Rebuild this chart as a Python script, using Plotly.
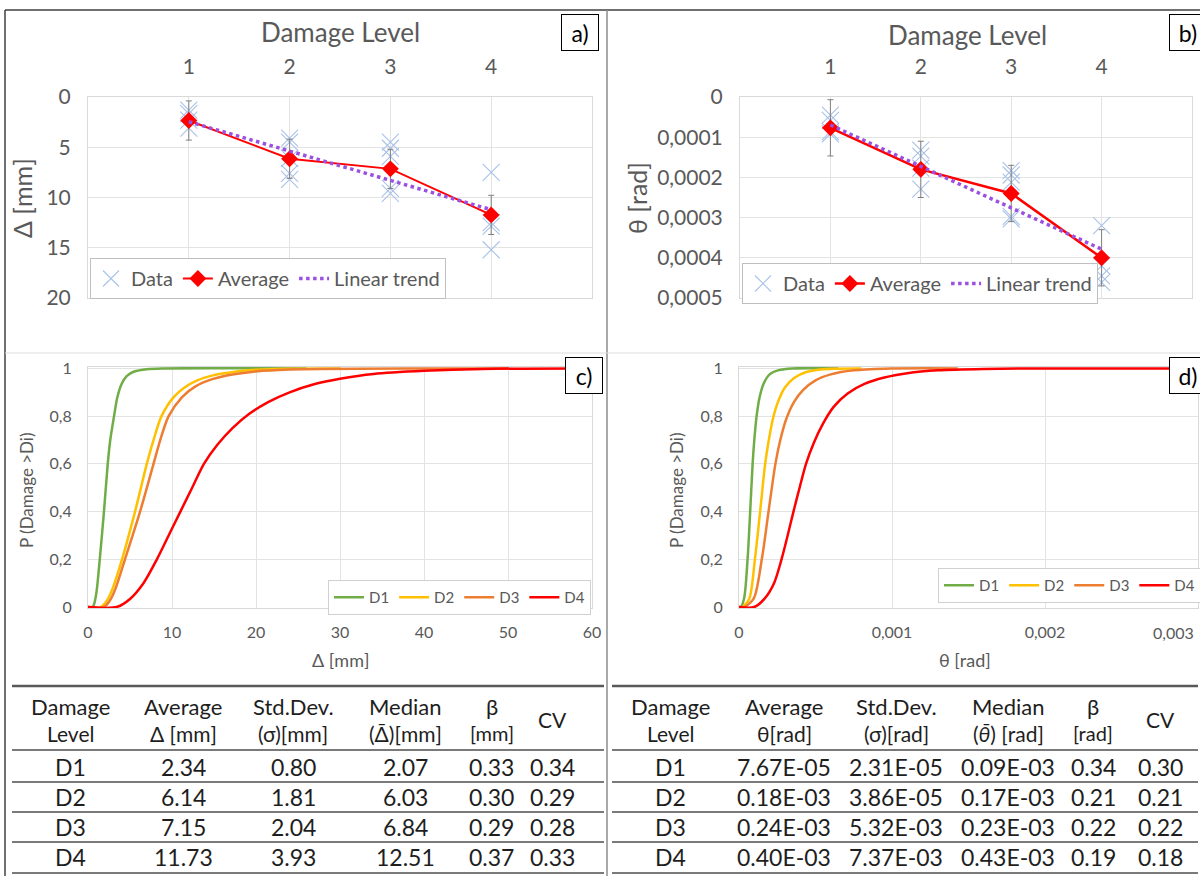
import numpy as np
import plotly.graph_objects as go

W, H = 1200, 876
def px(x): return x / W
def py(y): return 1 - y / H

FONT = "Lato"
GREY = "#595959"

# ---------------- data ----------------
levels = [1, 2, 3, 4]
level_names = ["D1", "D2", "D3", "D4"]

# panel a : displacement
avg_disp = [2.34, 6.14, 7.15, 11.73]
std_disp = [0.80, 1.81, 2.04, 3.93]
med_disp = [2.07, 6.03, 6.84, 12.51]
beta_disp = [0.33, 0.30, 0.29, 0.37]
cv_disp = [0.34, 0.29, 0.28, 0.33]
err_disp = [1.95, 1.95, 1.95, 1.95]
data_level_disp = [1, 1, 1, 1, 2, 2, 2, 2, 2, 3, 3, 3, 3, 3, 4, 4, 4, 4]
data_disp = [1.3, 1.65, 2.3, 3.1, 4.1, 4.5, 6.1, 7.6, 8.2, 4.5, 5.1, 5.9, 9.1, 9.6, 7.5, 12.5, 12.85, 15.2]

# panel b : rotation
avg_rot_txt = ["7.67E-05", "0.18E-03", "0.24E-03", "0.40E-03"]
std_rot_txt = ["2.31E-05", "3.86E-05", "5.32E-03", "7.37E-03"]
med_rot_txt = ["0.09E-03", "0.17E-03", "0.23E-03", "0.43E-03"]
beta_rot = [0.34, 0.21, 0.22, 0.19]
cv_rot = [0.30, 0.21, 0.22, 0.18]
err_rot = [7.0e-5, 7.0e-5, 7.0e-5, 7.0e-5]
data_level_rot = [1, 1, 1, 1, 2, 2, 2, 2, 3, 3, 3, 3, 3, 4, 4, 4, 4]
data_rot = [4.5e-5, 5.8e-5, 8.6e-5, 9.2e-5, 1.32e-4, 1.47e-4, 1.77e-4, 2.29e-4,
            1.83e-4, 1.94e-4, 2.12e-4, 2.97e-4, 3.03e-4, 3.2e-4, 4.2e-4, 4.45e-4, 4.61e-4]
avg_rot = [float(s) for s in avg_rot_txt]

# panel c : fragility curves vs displacement [mm]
c_d1_x = [0, 0.5, 0.7, 1.0, 1.4, 1.9, 2.35, 2.65, 3.1, 3.5, 4.0, 4.6, 5.5, 7.0, 9.0, 26]
c_d1_p = [0, 0, 0.01, 0.06, 0.2, 0.4, 0.6, 0.7, 0.8, 0.88, 0.935, 0.968, 0.987, 0.997, 1, 1]
c_d2_x = [0, 1.5, 2.3, 2.9, 4.05, 5.6, 7.0, 7.8, 8.75, 10.2, 11.5, 13.0, 15.0, 17.5, 20.0, 24.0, 30]
c_d2_p = [0, 0, 0.03, 0.075, 0.2, 0.4, 0.6, 0.7, 0.8, 0.88, 0.92, 0.95, 0.972, 0.986, 0.994, 0.999, 1]
c_d3_x = [0, 1.9, 2.65, 3.3, 4.4, 6.2, 7.8, 8.6, 9.6, 11.2, 12.8, 14.8, 17.2, 20.8, 25.5, 40, 50]
c_d3_p = [0, 0, 0.03, 0.08, 0.2, 0.4, 0.6, 0.7, 0.8, 0.88, 0.925, 0.955, 0.975, 0.99, 0.997, 1, 1]
c_d4_x = [0, 3.4, 5.0, 6.6, 8.2, 9.6, 11.0, 12.4, 13.8, 15.4, 17.2, 19.2, 21.5, 24, 27, 30, 34, 40, 47, 58]
c_d4_p = [0, 0, 0.034, 0.1, 0.2, 0.3, 0.4, 0.5, 0.6, 0.68, 0.75, 0.81, 0.86, 0.9, 0.935, 0.957, 0.977, 0.99, 0.998, 1]

# panel d : fragility curves vs rotation [rad]
d_d1_x = [0, 0.011e-3, 0.033e-3, 0.056e-3, 0.073e-3, 0.089e-3, 0.100e-3, 0.115e-3, 0.135e-3, 0.160e-3,
          0.200e-3, 0.260e-3, 0.350e-3, 0.65e-3]
d_d1_p = [0, 0, 0.035, 0.2, 0.4, 0.6, 0.7, 0.8, 0.88, 0.935, 0.975, 0.993, 1, 1]
d_d2_x = [0, 0.022e-3, 0.067e-3, 0.104e-3, 0.138e-3, 0.171e-3, 0.195e-3, 0.222e-3, 0.255e-3, 0.300e-3,
          0.360e-3, 0.440e-3, 0.550e-3, 0.8e-3]
d_d2_p = [0, 0, 0.035, 0.2, 0.4, 0.6, 0.7, 0.79, 0.86, 0.92, 0.96, 0.985, 0.997, 1]
d_d3_x = [0, 0.033e-3, 0.096e-3, 0.149e-3, 0.193e-3, 0.238e-3, 0.270e-3, 0.310e-3, 0.360e-3, 0.420e-3,
          0.500e-3, 0.600e-3, 0.750e-3, 0.95e-3, 1.43e-3]
d_d3_p = [0, 0, 0.035, 0.2, 0.4, 0.6, 0.7, 0.79, 0.86, 0.91, 0.95, 0.975, 0.992, 0.999, 1]
d_d4_x = [0, 0.100e-3, 0.167e-3, 0.229e-3, 0.278e-3, 0.318e-3, 0.356e-3, 0.396e-3, 0.438e-3, 0.490e-3,
          0.550e-3, 0.620e-3, 0.710e-3, 0.820e-3, 0.950e-3, 1.10e-3, 1.30e-3, 1.60e-3, 2.0e-3, 3.0e-3]
d_d4_p = [0, 0, 0.035, 0.1, 0.2, 0.3, 0.4, 0.5, 0.6, 0.69, 0.77, 0.84, 0.895, 0.935, 0.962, 0.98,
          0.992, 0.998, 1, 1]
d_ticks = [0, 0.001, 0.002, 0.003]
d_ticktext = ["0", "0,001", "0,002", "0,003"]

curve_colors = ["#70ad47", "#ffc000", "#ed7d31", "#ff0000"]

# linear trends (least squares on averages, as the spreadsheet trendline)
tr_a = np.polyfit(levels, avg_disp, 1)
tr_b = np.polyfit(levels, avg_rot, 1)
trend_x = [levels[0], levels[-1]]

fig = go.Figure()

DATA_C = "#a9c2e8"
# ---- panel a ----
fig.add_trace(go.Scatter(x=data_level_disp, y=data_disp, mode="markers", name="Data",
                         marker=dict(symbol="x-thin", size=17, line=dict(width=1.1, color=DATA_C)),
                         xaxis="x", yaxis="y", legend="legend"))
fig.add_trace(go.Scatter(x=levels, y=avg_disp, mode="lines+markers", name="Average",
                         line=dict(color="#ff0000", width=2),
                         marker=dict(symbol="diamond", size=13, color="#ff0000"),
                         error_y=dict(type="data", array=err_disp, color="#7f7f7f", thickness=1, width=3),
                         xaxis="x", yaxis="y", legend="legend"))
fig.add_trace(go.Scatter(x=trend_x, y=list(np.polyval(tr_a, trend_x)), mode="lines", name="Linear trend",
                         line=dict(color="#9b50e0", width=3.5, dash="dot"),
                         xaxis="x", yaxis="y", legend="legend"))
# ---- panel b ----
fig.add_trace(go.Scatter(x=data_level_rot, y=data_rot, mode="markers", name="Data",
                         marker=dict(symbol="x-thin", size=17, line=dict(width=1.1, color=DATA_C)),
                         xaxis="x2", yaxis="y2", legend="legend2"))
fig.add_trace(go.Scatter(x=levels, y=avg_rot, mode="lines+markers", name="Average",
                         line=dict(color="#ff0000", width=2.5),
                         marker=dict(symbol="diamond", size=13, color="#ff0000"),
                         error_y=dict(type="data", array=err_rot, color="#7f7f7f", thickness=1, width=3),
                         xaxis="x2", yaxis="y2", legend="legend2"))
fig.add_trace(go.Scatter(x=trend_x, y=list(np.polyval(tr_b, trend_x)), mode="lines", name="Linear trend",
                         line=dict(color="#9b50e0", width=3.5, dash="dot"),
                         xaxis="x2", yaxis="y2", legend="legend2"))
# ---- panel c ----
for name, xs, ps, col in zip(level_names, [c_d1_x, c_d2_x, c_d3_x, c_d4_x],
                             [c_d1_p, c_d2_p, c_d3_p, c_d4_p], curve_colors):
    fig.add_trace(go.Scatter(x=xs, y=ps, mode="lines", name=name,
                             line=dict(color=col, width=2.5, shape="spline", smoothing=0.8),
                             xaxis="x3", yaxis="y3", legend="legend3"))
# ---- panel d ----
for name, xs, ps, col in zip(level_names, [d_d1_x, d_d2_x, d_d3_x, d_d4_x],
                             [d_d1_p, d_d2_p, d_d3_p, d_d4_p], curve_colors):
    fig.add_trace(go.Scatter(x=xs, y=ps, mode="lines", name=name,
                             line=dict(color=col, width=2.5, shape="spline", smoothing=0.8),
                             xaxis="x4", yaxis="y4", legend="legend4"))

GRID = "#e3e3e3"
def axis(**kw):
    base = dict(showgrid=True, gridcolor=GRID, gridwidth=1, zeroline=False, automargin=False,
                showline=True, linecolor="#d9d9d9", linewidth=1, mirror=True,
                ticks="", color=GREY, tickfont=dict(family=FONT, color=GREY))
    base.update(kw)
    return base

BIG = dict(size=21, family=FONT, color=GREY)
SMALL = dict(size=16, family=FONT, color=GREY)
fig.update_layout(
    width=W, height=H, margin=dict(l=0, r=0, t=0, b=0, autoexpand=False),
    paper_bgcolor="white", plot_bgcolor="white",
    separators=",.",
    font=dict(family=FONT, color=GREY),
    xaxis=axis(domain=[px(88), px(592)], anchor="y", range=[0, 5], tickvals=levels, side="top",
               tickfont=BIG, ticklabelstandoff=14),
    yaxis=axis(domain=[py(298), py(97)], anchor="x", range=[20, 0], dtick=5,
               tickfont=BIG, ticklabelstandoff=12),
    xaxis2=axis(domain=[px(740), px(1192)], anchor="y2", range=[0, 5], tickvals=levels, side="top",
                tickfont=BIG, ticklabelstandoff=14),
    yaxis2=axis(domain=[py(298), py(97)], anchor="x2", range=[0.0005, 0], dtick=0.0001, tickformat=".4~f",
                tickfont=BIG, ticklabelstandoff=12),
    xaxis3=axis(domain=[px(88), px(592)], anchor="y3", range=[0, 60], dtick=10,
                tickfont=SMALL, ticklabelstandoff=10),
    yaxis3=axis(domain=[py(608), py(367)], anchor="x3", range=[-0.004, 1.006], dtick=0.2,
                tickfont=SMALL, ticklabelstandoff=12),
    xaxis4=axis(domain=[px(739), px(1198)], anchor="y4", range=[0, 0.003],
                tickvals=d_ticks[:-1], ticktext=d_ticktext[:-1],
                tickfont=SMALL, ticklabelstandoff=10),
    yaxis4=axis(domain=[py(608), py(367)], anchor="x4", range=[-0.004, 1.006], dtick=0.2,
                tickfont=SMALL, ticklabelstandoff=12),
    legend=dict(x=px(90), y=py(258), xanchor="left", yanchor="top", orientation="h",
                bgcolor="white", bordercolor="#bfbfbf", borderwidth=1, itemwidth=30,
                font=dict(size=20, family=FONT, color=GREY)),
    legend2=dict(x=px(742), y=py(263), xanchor="left", yanchor="top", orientation="h",
                 bgcolor="white", bordercolor="#bfbfbf", borderwidth=1, itemwidth=30,
                 font=dict(size=20, family=FONT, color=GREY)),
    legend3=dict(x=px(328), y=py(580), xanchor="left", yanchor="top", orientation="h",
                 bgcolor="white", bordercolor="#d0d0d0", borderwidth=1, itemwidth=30,
                 font=dict(size=15, family=FONT, color=GREY)),
    legend4=dict(x=px(938), y=py(568), xanchor="left", yanchor="top", orientation="h",
                 bgcolor="white", bordercolor="#d0d0d0", borderwidth=1, itemwidth=30,
                 font=dict(size=15, family=FONT, color=GREY)),
)

ann = []
def text(x, y, s, size, color=GREY, angle=0, **kw):
    d = dict(x=px(x), y=py(y), xref="paper", yref="paper", text=s, showarrow=False,
             xanchor="center", yanchor="middle", textangle=angle,
             font=dict(family=FONT, size=size, color=color))
    d.update(kw)
    ann.append(d)

# last tick label of panel d (kept inside the page, as in the original)
ann.append(dict(x=d_ticks[-1], xref="x4", y=py(632), yref="paper", text=d_ticktext[-1],
                showarrow=False, xanchor="right", yanchor="middle", xshift=-2,
                font=SMALL))

# axis titles
text(22, 198, "Δ [mm]", 25, angle=-90)
text(340, 32, "Damage Level", 26)
text(637, 198, "θ [rad]", 25, angle=-90)
text(967, 35, "Damage Level", 26)
text(26, 490, "P (Damage >Di)", 17, angle=-90)
text(340, 660, "Δ [mm]", 18)
text(676, 490, "P (Damage >Di)", 17, angle=-90)
text(965, 660, "θ [rad]", 18)

# panel labels
for lab, (x, y) in zip(["a)", "b)", "c)", "d)"], [(580, 32), (1188, 32), (584, 375), (1188, 375)]):
    text(x, y, lab, 23, color="#000000", bordercolor="#000000", borderwidth=1,
         bgcolor="white", width=34, height=33)

# tables
TXT = "#1e1e1e"
hdr_left = [["Damage", "Level"], ["Average", "Δ [mm]"], ["Std.Dev.", "(σ)[mm]"], ["Median", "(Δ\u0304)[mm]"],
            ["β", "[mm]"], ["CV"]]
hdr_right = [["Damage", "Level"], ["Average", "θ[rad]"], ["Std.Dev.", "(σ)[rad]"],
             ["Median", "(<i>θ\u0304</i>) [rad]"], ["β", "[rad]"], ["CV"]]
cols_left = [level_names, [f"{v:.2f}" for v in avg_disp], [f"{v:.2f}" for v in std_disp],
             [f"{v:.2f}" for v in med_disp], [f"{v:.2f}" for v in beta_disp], [f"{v:.2f}" for v in cv_disp]]
cols_right = [level_names, avg_rot_txt, std_rot_txt, med_rot_txt,
              [f"{v:.2f}" for v in beta_rot], [f"{v:.2f}" for v in cv_rot]]
xl = [70, 183, 293, 405, 492, 552]
xr = [670, 784, 896, 1008, 1093, 1160]
row_y = [767, 797, 827, 857]
for hdrs, cols, xs in [(hdr_left, cols_left, xl), (hdr_right, cols_right, xr)]:
    for h, col, x in zip(hdrs, cols, xs):
        if len(h) == 2:
            text(x, 706, h[0], 22, color=TXT)
            sz2 = 20 if h[0] == "β" else 21
            text(x, 733, h[1], sz2, color=TXT)
        else:
            text(x, 719, h[0], 21, color=TXT)
        for v, y in zip(col, row_y):
            text(x, y, v, 23, color=TXT)

shapes = []
def hline(x0, x1, y, color, w):
    shapes.append(dict(type="line", xref="paper", yref="paper", x0=px(x0), x1=px(x1),
                       y0=py(y), y1=py(y), line=dict(color=color, width=w)))
def vline(x, y0, y1, color, w):
    shapes.append(dict(type="line", xref="paper", yref="paper", x0=px(x), x1=px(x),
                       y0=py(y0), y1=py(y1), line=dict(color=color, width=w)))

hline(5, 1200, 10, "#404040", 1.5)
vline(5, 10, 876, "#404040", 1.5)
vline(607, 10, 876, "#8c8c8c", 1.5)
hline(5, 1200, 353, "#dcdcdc", 1)
for (a, b) in [(12, 604), (612, 1198)]:
    hline(a, b, 686, "#595959", 2.5)
    for y in [750, 782, 812, 842, 873]:
        hline(a, b, y, "#7a7a7a", 2)

fig.update_layout(annotations=ann, shapes=shapes)
fig.write_html("out.html")
